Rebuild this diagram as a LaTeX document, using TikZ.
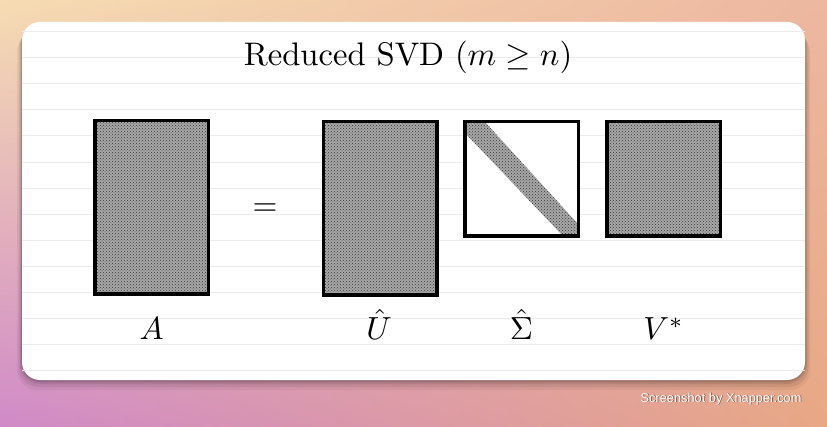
\documentclass[tikz,border=0pt]{standalone}
\usepackage{fontspec}
\usepackage{amsmath,amssymb}
\usepackage{tikz}
\usetikzlibrary{patterns,calc,shadings}
\newfontfamily\creditfont{Liberation Sans}
\definecolor{bgTL}{HTML}{F6DCB2}
\definecolor{bgTR}{HTML}{EDB7A0}
\definecolor{bgBL}{HTML}{D08AC8}
\definecolor{bgBR}{HTML}{E8A884}
\definecolor{rule}{HTML}{ECECEC}

\begin{document}
\begin{tikzpicture}[
  x=1pt,y=-1pt,
  dots/.style={preaction={fill=black!34},pattern=crosshatch dots,pattern color=black!80},
  mat/.style={draw,line width=3.5pt,inner sep=0pt,minimum width=113.5pt},
  lbl/.style={anchor=base,scale=3.2},
  credit/.style={anchor=base east,font=\creditfont\fontsize{12.8}{14}\selectfont}
]
  % backdrop and card
  \shade[upper left=bgTL,upper right=bgTR,lower left=bgBL,lower right=bgBR]
    (0,0) rectangle (827,427);
  \useasboundingbox (0,0) rectangle (827,427);
  \foreach \d/\o in {10/0.05,7/0.07,4/0.09,2/0.12}
    \fill[black,opacity=\o,rounded corners=20pt] (22-\d/2,22+\d) rectangle (805+\d/2,380+\d);
  \fill[white,rounded corners=18pt] (22,22) rectangle (805,380);
  \foreach \k in {0,...,13}
    \draw[rule,line width=0.8pt] (22,31.5+26.1*\k) -- (805,31.5+26.1*\k);

  \node[lbl,scale=1.02] (title) at (408,66) {Reduced SVD ($m\geq n$)};

  % the four matrices
  \node[mat,dots,minimum height=173.5pt] (A) at (151.5,207.5) {};
  \node[lbl] (eq) at (265,216) {$=$};
  \node[mat,dots,minimum height=173.5pt] (U) at (380,208.5) {};
  \node[mat,fill=white,minimum height=114.5pt,
    path picture={\fill[dots] (path picture bounding box.north west) -- ++(20,0)
      -- ($(path picture bounding box.south east)+(0,-12)$)
      -- (path picture bounding box.south east) -- ++(-15,0)
      -- ($(path picture bounding box.north west)+(0,11)$) -- cycle;}] (S) at (521.5,179) {};
  \node[mat,dots,minimum height=114.5pt] (V) at (663.5,179) {};

  \node[lbl] (lA) at (151.5,340) {$A$};
  \node[lbl] (lU) at (379,340) {$\hat{U}$};
  \node[lbl] (lS) at (521.5,340) {$\hat{\Sigma}$};
  \node[lbl] (lV) at (663.5,340) {$V^{*}$};

  \node[credit,text=black!80,opacity=0.7] (creditsh) at (805.8,402.8) {Screenshot by Xnapper.com};
  \node[credit,text=white] (credittxt) at (805,402) {Screenshot by Xnapper.com};
\end{tikzpicture}
\end{document}
